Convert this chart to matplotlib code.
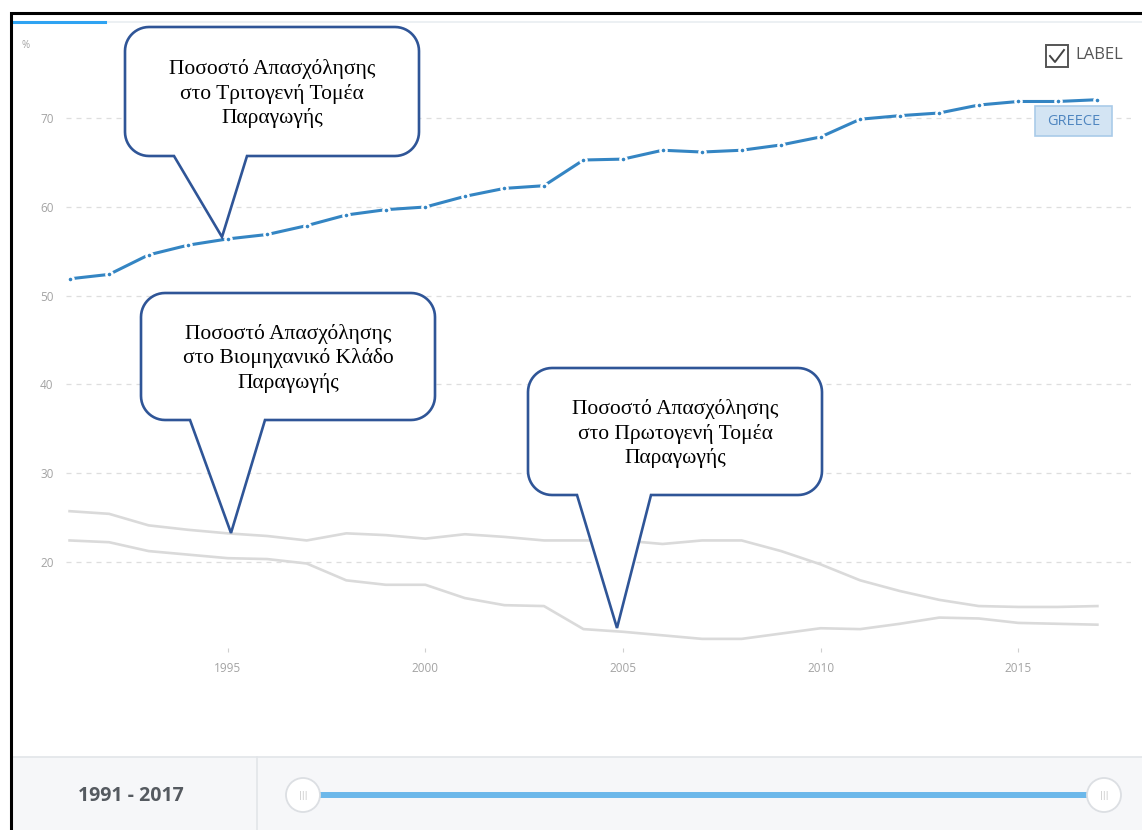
import numpy as np
import matplotlib
matplotlib.use("Agg")
import matplotlib.pyplot as plt
from matplotlib.patches import Polygon, Rectangle, Ellipse
from matplotlib.lines import Line2D

# data (Greece, employment share by sector, %)
years = list(range(1991, 2018))
services = [51.9, 52.4, 54.6, 55.7, 56.4, 56.9, 57.9, 59.1, 59.7, 60.0,
            61.2, 62.1, 62.4, 65.3, 65.4, 66.4, 66.2, 66.4, 67.0, 67.9,
            69.9, 70.3, 70.6, 71.5, 71.9, 71.9, 72.1]
industry = [25.7, 25.4, 24.1, 23.6, 23.2, 22.9, 22.4, 23.2, 23.0, 22.6,
            23.1, 22.8, 22.4, 22.4, 22.4, 22.0, 22.4, 22.4, 21.2, 19.7,
            17.9, 16.7, 15.7, 15.0, 14.9, 14.9, 15.0]
agriculture = [22.4, 22.2, 21.2, 20.8, 20.4, 20.3, 19.8, 17.9, 17.4, 17.4,
               15.9, 15.1, 15.0, 12.4, 12.1, 11.7, 11.3, 11.3, 11.9, 12.5,
               12.4, 13.0, 13.7, 13.6, 13.1, 13.0, 12.9]
y_ticks = [20, 30, 40, 50, 60, 70]
x_ticks = [1995, 2000, 2005, 2010, 2015]
callout_texts = ["Ποσοστό Απασχόλησης\nστο Τριτογενή Τομέα\nΠαραγωγής",
                 "Ποσοστό Απασχόλησης\nστο Βιομηχανικό Κλάδο\nΠαραγωγής",
                 "Ποσοστό Απασχόλησης\nστο Πρωτογενή Τομέα\nΠαραγωγής"]

W, H = 1142, 830
UI_FONT = ["Open Sans", "DejaVu Sans"]
SERIF = ["Liberation Serif", "DejaVu Serif"]

fig = plt.figure(figsize=(W / 100, H / 100), dpi=100)


def fx(x):
    return x / W


def fy(y):
    return 1 - y / H


# main axes (pixel box 66..1131 x 30..652)
ax = fig.add_axes([fx(66), fy(652), fx(1131) - fx(66), fy(30) - fy(652)])
ax.set_xlim(1990.91, 2017.85)
ax.set_ylim(9.82, 79.96)
for s in ax.spines.values():
    s.set_visible(False)
ax.set_yticks(y_ticks)
ax.set_xticks(x_ticks)
ax.yaxis.grid(True, linestyle=(0, (4, 4)), color="#dedede", linewidth=0.9)
ax.tick_params(axis="y", length=0, pad=9, labelsize=8.5, labelcolor="#a3a3a3")
ax.tick_params(axis="x", direction="in", length=3, color="#cfcfcf",
               pad=7, labelsize=8.5, labelcolor="#a3a3a3")
for lab in ax.get_xticklabels() + ax.get_yticklabels():
    lab.set_family(UI_FONT)

ax.plot(years, industry, color="#dadada", lw=1.9, solid_joinstyle="round")
ax.plot(years, agriculture, color="#dadada", lw=1.9, solid_joinstyle="round")
ax.plot(years, services, color="#3485c3", lw=2.2, marker="o", ms=4.4,
        mfc="#3485c3", mec="white", mew=1.8)

fig.text(fx(22), fy(45), "%", fontsize=7, color="#a3a3a3",
         family=UI_FONT, va="center")

# GREECE label box
fig.patches.append(Rectangle((fx(1035), fy(136)), fx(1112) - fx(1035),
                             fy(106) - fy(136), transform=fig.transFigure,
                             fc="#d3e4f3", ec="#a9cbe9", lw=1.2))
fig.text(fx(1073.5), fy(121.5), "GREECE", fontsize=10.5, color="#4f86c0",
         family=UI_FONT, ha="center", va="center")

# LABEL checkbox
fig.patches.append(Rectangle((fx(1046), fy(67)), fx(1068) - fx(1046),
                             fy(45) - fy(67), transform=fig.transFigure,
                             fc="white", ec="#555555", lw=1.4))
fig.lines.append(Line2D([fx(1050), fx(1055), fx(1064)],
                        [fy(56), fy(62), fy(50)], transform=fig.transFigure,
                        color="#444444", lw=1.4))
fig.text(fx(1075), fy(55), "LABEL", fontsize=12, color="#555555",
         family=UI_FONT, va="center")


# speech-bubble callouts (pixel geometry)
def callout(x0, y0, x1, y1, bl, br, tip, r=24):
    pts = []

    def arc(cx, cy, a0, a1):
        for a in np.linspace(a0, a1, 14):
            pts.append((cx + r * np.cos(a), cy + r * np.sin(a)))

    arc(x0 + r, y0 + r, np.pi, 1.5 * np.pi)
    arc(x1 - r, y0 + r, 1.5 * np.pi, 2 * np.pi)
    arc(x1 - r, y1 - r, 0, 0.5 * np.pi)
    pts += [(br, y1), tip, (bl, y1)]
    arc(x0 + r, y1 - r, 0.5 * np.pi, np.pi)
    pts = [(fx(a), fy(b)) for a, b in pts]
    fig.patches.append(Polygon(pts, closed=True, transform=fig.transFigure,
                               fc="white", ec="#2f5597", lw=1.9, zorder=3))


boxes = [(125, 27, 419, 156, 174, 247, (222, 237)),
         (141, 293, 435, 420, 190, 265, (231, 533)),
         (528, 368, 822, 495, 577, 651, (617, 628))]
for (x0, y0, x1, y1, bl, br, tip), txt in zip(boxes, callout_texts):
    callout(x0, y0, x1, y1, bl, br, tip)
    fig.text(fx((x0 + x1) / 2), fy((y0 + y1) / 2 + 2), txt, fontsize=15.5,
             family=SERIF, ha="center", va="center", multialignment="center",
             linespacing=1.3, color="black", zorder=4)

# top tab indicator
fig.lines.append(Line2D([fx(12), fx(1142)], [fy(22), fy(22)],
                        transform=fig.transFigure, color="#e9edf1", lw=1.2))
fig.lines.append(Line2D([fx(12), fx(105)], [fy(22), fy(22)],
                        transform=fig.transFigure, color="#2ea3f2", lw=2.2))

# bottom range panel
fig.patches.append(Rectangle((fx(11), 0), 1 - fx(11), fy(757),
                             transform=fig.transFigure, fc="#f6f7f9",
                             ec="none"))
fig.lines.append(Line2D([fx(11), 1], [fy(757), fy(757)],
                        transform=fig.transFigure, color="#e2e5e9", lw=1.2))
fig.lines.append(Line2D([fx(257), fx(257)], [fy(757), 0],
                        transform=fig.transFigure, color="#e2e5e9", lw=1.2))
fig.text(fx(131), fy(796), f"{years[0]} - {years[-1]}", fontsize=14,
         fontweight="bold", color="#555a60", family=UI_FONT,
         ha="center", va="center")
fig.lines.append(Line2D([fx(303), fx(1104)], [fy(795), fy(795)],
                        transform=fig.transFigure, color="#6cb8ea", lw=4.3))
for hx in (303, 1104):
    fig.patches.append(Ellipse((fx(hx), fy(795)), 34 / W, 34 / H,
                               transform=fig.transFigure, fc="white",
                               ec="#dcdfe3", lw=1.3, zorder=5))
    fig.text(fx(hx), fy(795), "|||", fontsize=6, color="#c8c8c8",
             ha="center", va="center", zorder=6)

# outer black frame
fig.lines.append(Line2D([fx(11), fx(11), 1], [0, fy(13), fy(13)],
                        transform=fig.transFigure, color="black", lw=2.2,
                        solid_joinstyle="miter"))

fig.savefig("out.png", dpi=100)
